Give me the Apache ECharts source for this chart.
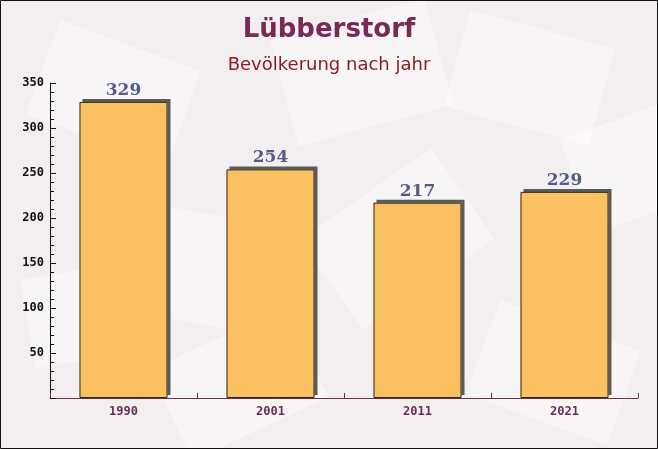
<!DOCTYPE html>
<html>
<head>
<meta charset="utf-8">
<script src="https://cdn.jsdelivr.net/npm/echarts@6/dist/echarts.min.js"></script>
<style>html,body{margin:0;padding:0;background:#f3eff1;}#c{width:658px;height:449px;}</style>
</head>
<body>
<div id="c"></div>
<script>
var categories = ['1990', '2001', '2011', '2021'];
var population = [329, 254, 217, 229];
var yTicks = [0, 50, 100, 150, 200, 250, 300, 350];

var chart = echarts.init(document.getElementById('c'));
var bgShapes = [
  [60, 20, 150, 100, -20], [270, 40, 160, 110, 15], [470, 10, 150, 100, -15],
  [560, 140, 150, 100, 20], [130, 200, 140, 110, -10], [300, 240, 160, 110, 35],
  [500, 300, 150, 100, -20], [150, 370, 150, 100, 25], [20, 280, 100, 90, 10]
].map(function (s) {
  return {
    type: 'rect', z: -10, silent: true,
    x: s[0], y: s[1], rotation: s[4] * Math.PI / 180,
    shape: { x: 0, y: 0, width: s[2], height: s[3] },
    style: { fill: 'rgba(255,255,255,0.4)' }
  };
});
bgShapes.push({
  type: 'rect', z: 100, silent: true,
  shape: { x: 0.5, y: 0.5, width: 657, height: 448 },
  style: { fill: 'none', stroke: '#111', lineWidth: 1 }
});

chart.setOption({
  backgroundColor: '#f3eff1',
  animation: false,
  graphic: bgShapes,
  title: [{
    text: 'Lübberstorf', left: 'center', top: 12,
    textStyle: { fontFamily: 'DejaVu Sans', fontWeight: 'bold', fontSize: 26, color: '#7a2a52' }
  }, {
    text: 'Bevölkerung nach jahr', left: 'center', top: 51,
    textStyle: { fontFamily: 'DejaVu Sans', fontWeight: 'normal', fontSize: 18, color: '#8b1a1a' }
  }],
  grid: { left: 50, right: 20, top: 83, bottom: 51 },
  xAxis: {
    type: 'category', data: categories, boundaryGap: true,
    axisLine: { lineStyle: { color: '#6b2d55', width: 1 } },
    axisTick: { show: true, inside: true, length: 5, lineStyle: { color: '#6b2d55' } },
    axisLabel: { fontFamily: 'DejaVu Sans Mono', fontWeight: 'bold', fontSize: 12, color: '#6b2d55', margin: 8 }
  },
  yAxis: {
    type: 'value', min: 0, max: 350, interval: 50,
    axisLine: { show: true, lineStyle: { color: '#111', width: 1 } },
    axisTick: { show: true, inside: true, length: 6, lineStyle: { color: '#111' } },
    minorTick: { show: true, splitNumber: 5, length: 4, lineStyle: { color: '#111' } },
    splitLine: { show: false },
    axisLabel: {
      fontFamily: 'DejaVu Sans Mono', fontWeight: 'bold', fontSize: 12, color: '#111', margin: 6,
      formatter: function (v) { return yTicks.indexOf(v) > 0 ? String(v) : ''; }
    }
  },
  series: [{
    type: 'bar', data: population, barWidth: 88, barGap: '-100%',
    itemStyle: {
      color: '#fbc160', borderWidth: 0,
      shadowColor: '#5a5a5a', shadowOffsetX: 3, shadowOffsetY: -3, shadowBlur: 0
    },
    label: {
      show: true, position: 'top', distance: 3,
      fontFamily: 'DejaVu Serif', fontWeight: 'bold', fontSize: 17, color: '#525c87'
    }
  }, {
    type: 'bar', data: population, barWidth: 88, barGap: '-100%', silent: true,
    itemStyle: { color: 'transparent', borderColor: '#2a2a2a', borderWidth: 1 },
    label: { show: false }
  }]
});
</script>
</body>
</html>
